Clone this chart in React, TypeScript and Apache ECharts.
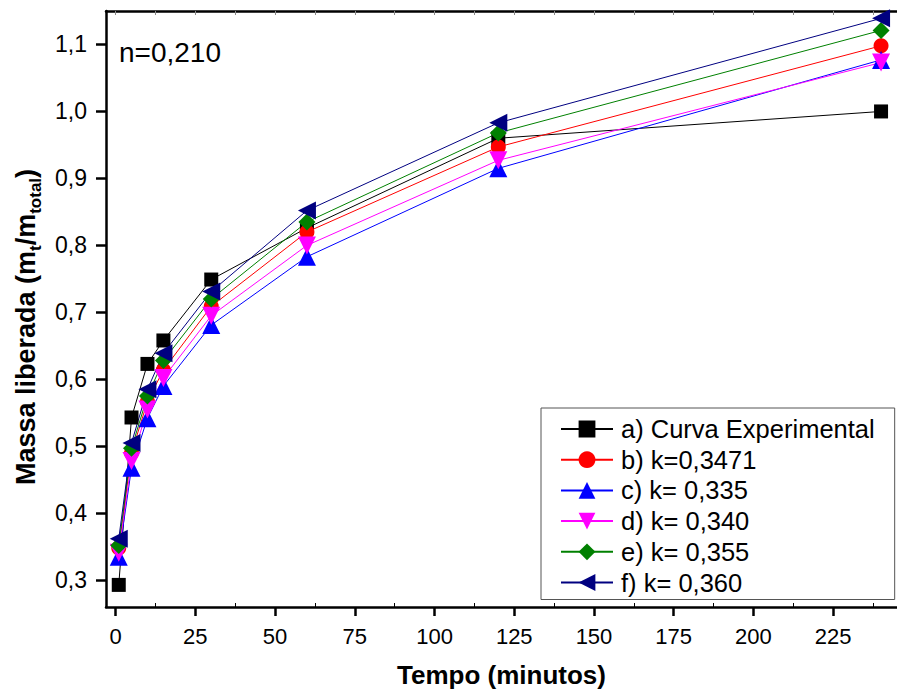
import React, { useEffect, useRef } from "react";
import * as echarts from "echarts";

const times = [1, 5, 10, 15, 30, 60, 120, 240];
const seriesA = [0.293, 0.543, 0.623, 0.658, 0.749, 0.826, 0.96, 1.0];
const seriesB = [0.348, 0.49, 0.567, 0.614, 0.709, 0.82, 0.947, 1.098];
const seriesC = [0.335, 0.468, 0.542, 0.59, 0.681, 0.783, 0.915, 1.077];
const seriesD = [0.341, 0.478, 0.555, 0.602, 0.695, 0.8, 0.927, 1.073];
const seriesE = [0.352, 0.497, 0.575, 0.628, 0.72, 0.835, 0.968, 1.121];
const seriesF = [0.362, 0.505, 0.585, 0.639, 0.731, 0.852, 0.983, 1.139];
const seriesNames = [
  "a) Curva Experimental",
  "b) k=0,3471",
  "c) k= 0,335",
  "d) k= 0,340",
  "e) k= 0,355",
  "f) k= 0,360",
];
const xTicks = [0, 25, 50, 75, 100, 125, 150, 175, 200, 225];
const xMinorTicks = [12.5, 37.5, 62.5, 87.5, 112.5, 137.5, 162.5, 187.5, 212.5, 237.5];
const xTopTicks = [0, 12.5, 25, 37.5, 50, 62.5, 75, 87.5, 100, 112.5, 125, 137.5, 150, 162.5, 175, 187.5, 200, 212.5, 225, 237.5];
const yTicks = [0.3, 0.4, 0.5, 0.6, 0.7, 0.8, 0.9, 1.0, 1.1];

const FONT = "'Liberation Sans', Arial, sans-serif";

export default function App() {
  const ref = useRef<HTMLDivElement>(null);
  useEffect(() => {
    if (!ref.current) return;
    const chart = echarts.init(ref.current, undefined, { renderer: "svg" });
    const allData = [seriesA, seriesB, seriesC, seriesD, seriesE, seriesF];
    const colors = ["#000000", "#ff0000", "#0000ff", "#ff00ff", "#008000", "#000080"];
    const symbols = ["rect", "circle", "triangle", "triangle", "diamond", "triangle"];
    const rotates = [0, 0, 0, 180, 0, 90];
    const sizes = [14, 15, 18, 18, 17, 18];
    const series = allData.map((d, i) => ({
      type: "line",
      name: seriesNames[i],
      data: times.map((t, j) => [t, d[j]]),
      color: colors[i],
      symbol: symbols[i],
      symbolRotate: rotates[i],
      symbolSize: sizes[i],
      showAllSymbol: true,
      lineStyle: { color: colors[i], width: 1 },
      itemStyle: { color: colors[i] },
      xAxisIndex: 0,
      yAxisIndex: 0,
    }));
    chart.setOption({
      animation: false,
      textStyle: { fontFamily: FONT },
      grid: { left: 106, top: 11, width: 801, height: 596 },
      xAxis: [
        {
          type: "value",
          min: -3,
          max: 245,
          position: "bottom",
          name: "Tempo (minutos)",
          nameLocation: "middle",
          nameGap: 55,
          nameTextStyle: { fontSize: 26, fontWeight: "bold", color: "#000", fontFamily: FONT },
          axisLine: { show: true, onZero: false, lineStyle: { color: "#000", width: 2.5 } },
          axisTick: { show: true, inside: false, length: 9, customValues: xTicks, lineStyle: { color: "#000", width: 2.5 } },
          axisLabel: { customValues: xTicks, fontSize: 22, color: "#000", margin: 18, fontFamily: FONT },
          splitLine: { show: false },
        },
        {
          type: "value",
          min: -3,
          max: 245,
          position: "bottom",
          axisLine: { show: false, onZero: false },
          axisTick: { show: true, inside: true, length: 4, customValues: xMinorTicks, lineStyle: { color: "#000", width: 1 } },
          axisLabel: { show: false },
          splitLine: { show: false },
        },
        {
          type: "value",
          min: -3,
          max: 245,
          position: "top",
          axisLine: { show: true, onZero: false, lineStyle: { color: "#000", width: 2.5 } },
          axisTick: { show: true, inside: true, length: 4, customValues: xTopTicks, lineStyle: { color: "#888", width: 1 } },
          axisLabel: { show: false },
          splitLine: { show: false },
        },
      ],
      yAxis: [
        {
          type: "value",
          min: 0.26,
          max: 1.15,
          position: "left",
          name: "Massa liberada (m{sub|t}/m{sub|total})",
          nameLocation: "middle",
          nameGap: 62,
          nameRotate: 90,
          nameTextStyle: {
            fontSize: 27,
            fontWeight: "bold",
            color: "#000",
            fontFamily: FONT,
            lineHeight: 36,
            padding: [0, 36, 0, 0],
            rich: {
              sub: { fontSize: 17, fontWeight: "bold", color: "#000", fontFamily: FONT, lineHeight: 17, verticalAlign: "bottom" },
            },
          },
          axisLine: { show: true, onZero: false, lineStyle: { color: "#000", width: 2.5 } },
          axisTick: { show: true, inside: false, length: 10, customValues: yTicks, lineStyle: { color: "#000", width: 2.5 } },
          axisLabel: {
            customValues: yTicks,
            fontSize: 23,
            color: "#000",
            margin: 19,
            fontFamily: FONT,
            formatter: (v: number) => v.toFixed(1).replace(".", ","),
          },
          splitLine: { show: false },
        },
      ],
      legend: {
        orient: "vertical",
        left: 541,
        top: 408,
        padding: [8, 20, 4, 19],
        backgroundColor: "#fff",
        borderColor: "#555",
        borderWidth: 1,
        itemWidth: 52,
        itemHeight: 21,
        itemGap: 4.7,
        textStyle: { fontSize: 25.5, lineHeight: 24, color: "#000", fontFamily: FONT, padding: [0, 0, 0, 3] },
        data: seriesNames,
      },
      graphic: [
        {
          type: "text",
          x: 119,
          y: 52,
          style: { text: "n=0,210", font: `28px ${FONT}`, fill: "#000", verticalAlign: "middle" },
        },
      ],
      series,
    });
    return () => chart.dispose();
  }, []);
  return <div ref={ref} style={{ position: "fixed", left: 0, top: 0, width: 897, height: 695, background: "#fff" }} />;
}
